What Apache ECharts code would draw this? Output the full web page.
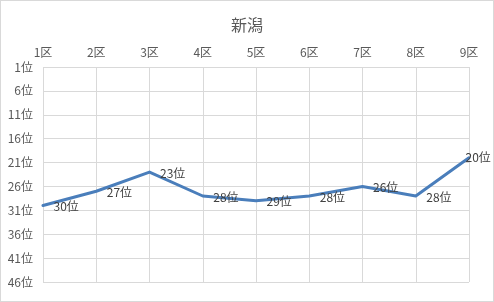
<!DOCTYPE html>
<html>
<head>
<meta charset="utf-8">
<script src="https://cdn.jsdelivr.net/npm/echarts@6/dist/echarts.min.js"></script>
<style>
  html, body { margin: 0; padding: 0; background: #fff; }
  #chart { width: 494px; height: 302px; box-sizing: border-box; border: 1px solid #d9d9d9; }
</style>
</head>
<body>
<div id="chart"></div>
<script>
// Districts and the prefecture ranking in each
const districts = ['1区', '2区', '3区', '4区', '5区', '6区', '7区', '8区', '9区'];
const ranks = [30, 27, 23, 28, 29, 28, 26, 28, 20];
const rankTicks = [1, 6, 11, 16, 21, 26, 31, 36, 41, 46];

const FONT = '"Noto Sans CJK JP", "Noto Sans", sans-serif';
const firstRank = rankTicks[0];

// The axis runs from rank 1 downwards; it is offset by the first rank so
// ticks fall on 1, 6, 11, ... while the interval stays anchored at 0.
const seriesData = ranks.map((r, i) => {
  const item = { value: r - firstRank };
  if (i === ranks.length - 1) {
    item.label = { offset: [-14, 0] };
  }
  return item;
});

const chart = echarts.init(document.getElementById('chart'), null, { renderer: 'canvas' });
chart.setOption({
  animation: false,
  title: {
    text: '新潟',
    left: 'center',
    top: 11,
    textStyle: { fontFamily: FONT, fontSize: 16, fontWeight: 'normal', color: '#595959' }
  },
  grid: { left: 42, right: 24, top: 66, bottom: 19, containLabel: false },
  xAxis: {
    type: 'category',
    position: 'top',
    data: districts,
    boundaryGap: false,
    axisLine: { show: false },
    axisTick: { show: false },
    axisLabel: { fontFamily: FONT, fontSize: 12, color: '#595959', margin: 9 },
    splitLine: { show: true, lineStyle: { color: '#d9d9d9', width: 1 } }
  },
  yAxis: {
    type: 'value',
    inverse: true,
    min: 0,
    max: rankTicks[rankTicks.length - 1] - firstRank,
    interval: rankTicks[1] - rankTicks[0],
    axisLine: { show: false },
    axisTick: { show: false },
    axisLabel: {
      fontFamily: FONT, fontSize: 12, color: '#595959', margin: 10,
      formatter: v => (v + firstRank) + '位'
    },
    splitLine: { show: true, lineStyle: { color: '#d9d9d9', width: 1 } }
  },
  series: [{
    type: 'line',
    data: seriesData,
    showSymbol: true,
    symbol: 'circle',
    symbolSize: 1,
    itemStyle: { color: 'rgba(0,0,0,0)', borderWidth: 0 },
    lineStyle: { color: '#4a7ebb', width: 3, cap: 'round', join: 'round' },
    label: {
      show: true,
      position: 'right',
      distance: 10,
      offset: [0, 1],
      fontFamily: FONT,
      fontSize: 12,
      color: '#404040',
      formatter: p => (p.value + firstRank) + '位'
    }
  }]
});
</script>
</body>
</html>
